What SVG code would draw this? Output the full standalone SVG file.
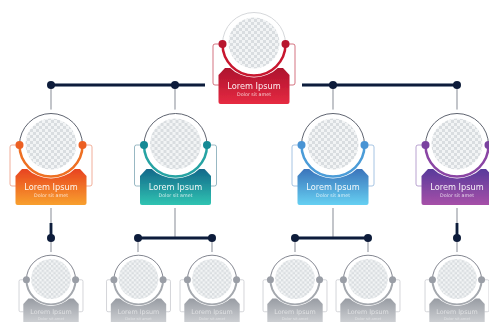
<svg xmlns="http://www.w3.org/2000/svg" xmlns:xlink="http://www.w3.org/1999/xlink" width="489" height="322" viewBox="0 0 489 322">
<style>
.t1{font:500 8.2px "DejaVu Sans",sans-serif;fill:#fff;fill-opacity:.92;text-anchor:middle}
.t2{font:500 4.8px "DejaVu Sans",sans-serif;fill:#fff;fill-opacity:.75;text-anchor:middle}
.br{fill:none;stroke-width:.8}
.top{fill:none;stroke:#4d5260;stroke-width:.9}
.bot{fill:none;stroke-width:2.5}
.gr{stroke:#a3a7ae;stroke-width:1.3;fill:none}
.nv{stroke:#0d1b3a;stroke-width:2.8;fill:none}
.dn{fill:#0d1b3a}
</style>
<defs>
<filter id="soft" x="-5%" y="-5%" width="110%" height="110%"><feGaussianBlur stdDeviation="0.5"/></filter>
<pattern id="chk" width="6" height="6" patternUnits="userSpaceOnUse">
<rect width="6" height="6" fill="#f2f4f5"/><rect width="3" height="3" fill="#d9dde0"/><rect x="3" y="3" width="3" height="3" fill="#d9dde0"/>
</pattern>
<linearGradient id="gR" x1="0" y1="0" x2="0" y2="1"><stop offset="0" stop-color="#ad112d"/><stop offset="1" stop-color="#e62b42"/></linearGradient>
<linearGradient id="gO" x1="0" y1="0" x2="0" y2="1"><stop offset="0" stop-color="#e8431f"/><stop offset="1" stop-color="#f8a02e"/></linearGradient>
<linearGradient id="gT" x1="0" y1="0" x2="0" y2="1"><stop offset="0" stop-color="#14688a"/><stop offset="1" stop-color="#30c4b2"/></linearGradient>
<linearGradient id="gB" x1="0" y1="0" x2="0" y2="1"><stop offset="0" stop-color="#3b74bb"/><stop offset="1" stop-color="#66d0f2"/></linearGradient>
<linearGradient id="gP" x1="0" y1="0" x2="0" y2="1"><stop offset="0" stop-color="#583a9b"/><stop offset="1" stop-color="#a650a8"/></linearGradient>
<linearGradient id="gG" x1="0" y1="0" x2="0" y2="1"><stop offset="0" stop-color="#989ca3"/><stop offset="1" stop-color="#d6d8db"/></linearGradient>
<path id="box" d="M-29,25 H29 L35.5,32 V59 a2,2 0 0 1 -2,2 H-33.5 a2,2 0 0 1 -2,-2 V32 Z"/>
<path id="brk" d="M-31,1 H-39 a2,2 0 0 0 -2,2 V40 a2,2 0 0 0 2,2 H-35 M31,1 H39 a2,2 0 0 1 2,2 V40 a2,2 0 0 1 -2,2 H35"/>
<g id="face"><circle r="34.5" fill="#fff"/><circle r="25.5" fill="url(#chk)"/></g>
<path id="upper" d="M-31.5,1 A31.5,31.5 0 0 1 31.5,1"/>
<path id="lower" d="M-31.5,1 A31.5,31.5 0 0 0 31.5,1"/>
<g id="txt"><text class="t1" y="45.5">Lorem Ipsum</text><text class="t2" y="52.5">Dolor sit amet</text></g>
</defs>
<rect width="489" height="322" fill="#fff"/>
<g id="connectors" filter="url(#soft)">
<path class="gr" d="M51,85V113M175,85V113M333,85V113M457,85V113"/>
<path class="gr" d="M51,208V256M175,208V238M138,238V256M212,238V256M333,208V238M295,238V256M368,238V256M457,208V256"/>
<path class="nv" d="M50,85H205M302,85H457M51,223V238M138,238H212M295,238H368M457,223V238"/>
<circle class="dn" cx="51" cy="85" r="4"/><circle class="dn" cx="175" cy="85" r="4"/><circle class="dn" cx="333" cy="85" r="4"/><circle class="dn" cx="457" cy="85" r="4"/>
<circle class="dn" cx="51" cy="238" r="4"/><circle class="dn" cx="138" cy="238" r="4"/><circle class="dn" cx="212" cy="238" r="4"/><circle class="dn" cx="295" cy="238" r="4"/><circle class="dn" cx="368" cy="238" r="4"/><circle class="dn" cx="457" cy="238" r="4"/>
</g>
<g id="node-top" transform="translate(254,43)" filter="url(#soft)">
<use xlink:href="#brk" class="br" stroke="#c9525f"/><use xlink:href="#box" fill="url(#gR)"/><use xlink:href="#face"/>
<use xlink:href="#upper" class="top" style="stroke:#d0d2d6"/><use xlink:href="#lower" class="bot" stroke="#c8172f"/>
<circle cx="-31.5" cy="1" r="4" fill="#b8122e"/><circle cx="31.5" cy="1" r="4" fill="#b8122e"/><use xlink:href="#txt"/>
</g>
<g id="node-orange" transform="translate(51,144)" filter="url(#soft)">
<use xlink:href="#brk" class="br" stroke="#ee9a80"/><use xlink:href="#box" fill="url(#gO)"/><use xlink:href="#face"/>
<use xlink:href="#upper" class="top"/><use xlink:href="#lower" class="bot" stroke="#ee6f24"/>
<circle cx="-31.5" cy="1" r="4" fill="#ec5f22"/><circle cx="31.5" cy="1" r="4" fill="#ec5f22"/><use xlink:href="#txt"/>
</g>
<g id="node-teal" transform="translate(175.500,144)" filter="url(#soft)">
<use xlink:href="#brk" class="br" stroke="#7ea6b4"/><use xlink:href="#box" fill="url(#gT)"/><use xlink:href="#face"/>
<use xlink:href="#upper" class="top"/><use xlink:href="#lower" class="bot" stroke="#25a3a3"/>
<circle cx="-31.5" cy="1" r="4" fill="#178a95"/><circle cx="31.5" cy="1" r="4" fill="#178a95"/><use xlink:href="#txt"/>
</g>
<g id="node-blue" transform="translate(333,144)" filter="url(#soft)">
<use xlink:href="#brk" class="br" stroke="#8fb5dc"/><use xlink:href="#box" fill="url(#gB)"/><use xlink:href="#face"/>
<use xlink:href="#upper" class="top"/><use xlink:href="#lower" class="bot" stroke="#4b9cd8"/>
<circle cx="-31.5" cy="1" r="4" fill="#4a94d4"/><circle cx="31.5" cy="1" r="4" fill="#4a94d4"/><use xlink:href="#txt"/>
</g>
<g id="node-purple" transform="translate(457,144)" filter="url(#soft)">
<use xlink:href="#brk" class="br" stroke="#a78cc4"/><use xlink:href="#box" fill="url(#gP)"/><use xlink:href="#face"/>
<use xlink:href="#upper" class="top"/><use xlink:href="#lower" class="bot" stroke="#8a45a4"/>
<circle cx="-31.5" cy="1" r="4" fill="#7a429f"/><circle cx="31.5" cy="1" r="4" fill="#7a429f"/><use xlink:href="#txt"/>
</g>
<g id="node-g1" transform="translate(51,279) scale(.78)" filter="url(#soft)">
<use xlink:href="#brk" class="br" stroke="#b9bcc1"/><use xlink:href="#box" fill="url(#gG)"/><use xlink:href="#face"/>
<use xlink:href="#upper" class="top"/><use xlink:href="#lower" class="bot" stroke="#a4a8ae"/>
<circle cx="-31.5" cy="1" r="4.5" fill="#9a9ea6"/><circle cx="31.5" cy="1" r="4.5" fill="#9a9ea6"/><use xlink:href="#txt" opacity=".6"/>
</g>
<g id="node-g2" transform="translate(138.500,279) scale(.78)" filter="url(#soft)">
<use xlink:href="#brk" class="br" stroke="#b9bcc1"/><use xlink:href="#box" fill="url(#gG)"/><use xlink:href="#face"/>
<use xlink:href="#upper" class="top"/><use xlink:href="#lower" class="bot" stroke="#a4a8ae"/>
<circle cx="-31.5" cy="1" r="4.5" fill="#9a9ea6"/><circle cx="31.5" cy="1" r="4.5" fill="#9a9ea6"/><use xlink:href="#txt" opacity=".6"/>
</g>
<g id="node-g3" transform="translate(212,279) scale(.78)" filter="url(#soft)">
<use xlink:href="#brk" class="br" stroke="#b9bcc1"/><use xlink:href="#box" fill="url(#gG)"/><use xlink:href="#face"/>
<use xlink:href="#upper" class="top"/><use xlink:href="#lower" class="bot" stroke="#a4a8ae"/>
<circle cx="-31.5" cy="1" r="4.5" fill="#9a9ea6"/><circle cx="31.5" cy="1" r="4.5" fill="#9a9ea6"/><use xlink:href="#txt" opacity=".6"/>
</g>
<g id="node-g4" transform="translate(295,279) scale(.78)" filter="url(#soft)">
<use xlink:href="#brk" class="br" stroke="#b9bcc1"/><use xlink:href="#box" fill="url(#gG)"/><use xlink:href="#face"/>
<use xlink:href="#upper" class="top"/><use xlink:href="#lower" class="bot" stroke="#a4a8ae"/>
<circle cx="-31.5" cy="1" r="4.5" fill="#9a9ea6"/><circle cx="31.5" cy="1" r="4.5" fill="#9a9ea6"/><use xlink:href="#txt" opacity=".6"/>
</g>
<g id="node-g5" transform="translate(368,279) scale(.78)" filter="url(#soft)">
<use xlink:href="#brk" class="br" stroke="#b9bcc1"/><use xlink:href="#box" fill="url(#gG)"/><use xlink:href="#face"/>
<use xlink:href="#upper" class="top"/><use xlink:href="#lower" class="bot" stroke="#a4a8ae"/>
<circle cx="-31.5" cy="1" r="4.5" fill="#9a9ea6"/><circle cx="31.5" cy="1" r="4.5" fill="#9a9ea6"/><use xlink:href="#txt" opacity=".6"/>
</g>
<g id="node-g6" transform="translate(457,279) scale(.78)" filter="url(#soft)">
<use xlink:href="#brk" class="br" stroke="#b9bcc1"/><use xlink:href="#box" fill="url(#gG)"/><use xlink:href="#face"/>
<use xlink:href="#upper" class="top"/><use xlink:href="#lower" class="bot" stroke="#a4a8ae"/>
<circle cx="-31.5" cy="1" r="4.5" fill="#9a9ea6"/><circle cx="31.5" cy="1" r="4.5" fill="#9a9ea6"/><use xlink:href="#txt" opacity=".6"/>
</g>
</svg>
